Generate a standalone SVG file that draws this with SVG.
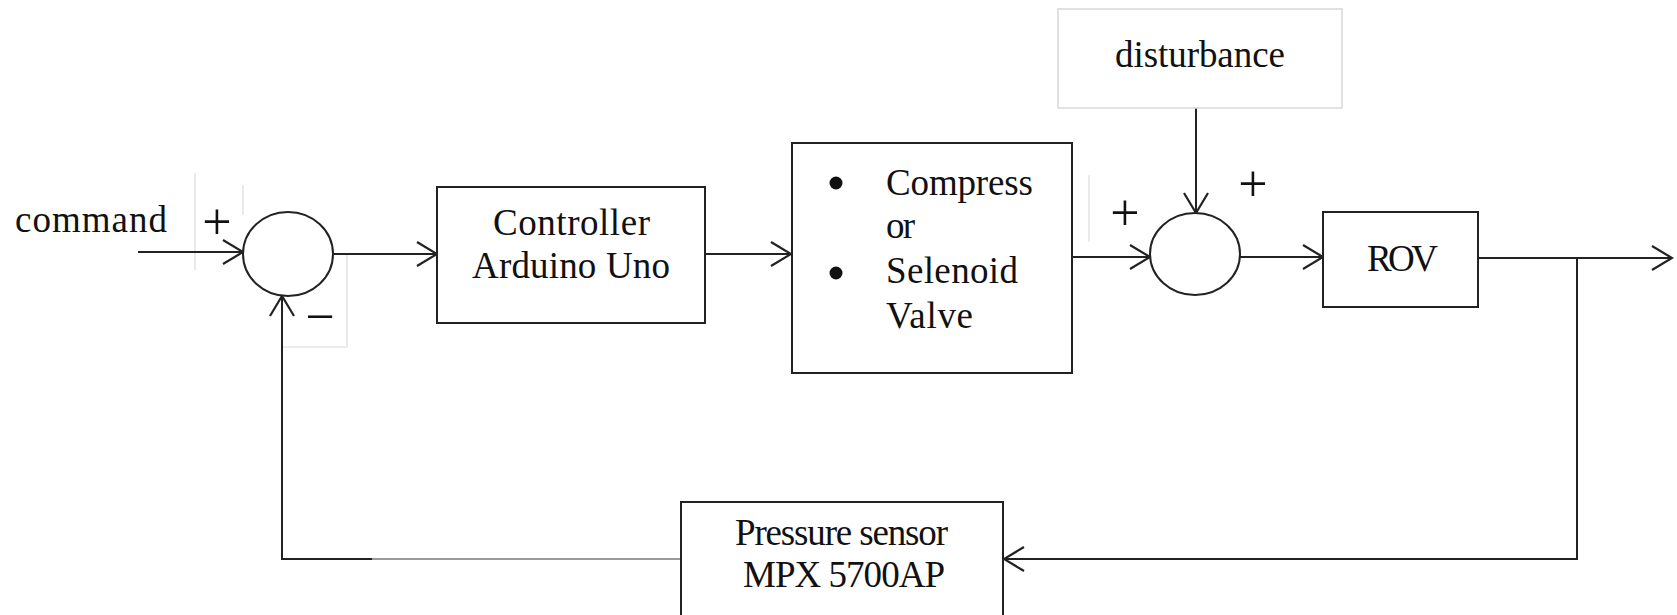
<svg xmlns="http://www.w3.org/2000/svg" width="1677" height="615" viewBox="0 0 1677 615">
<style>
.box{fill:#fff;stroke:#222;stroke-width:2}
.sum{fill:#fff;stroke:#222;stroke-width:2}
.ln{fill:none;stroke:#222;stroke-width:2}
.faint{fill:none;stroke:#dcdcdc;stroke-width:1.2}
.t{font-family:"Liberation Serif","Times New Roman",serif;font-size:37px;fill:#111}
.sg{font-family:"Liberation Serif","Times New Roman",serif;font-size:52px;fill:#111;text-anchor:middle}
</style>
<defs>
<marker id="arr" viewBox="0 0 24 26" refX="22" refY="13" markerWidth="24" markerHeight="26" markerUnits="userSpaceOnUse" orient="auto">
<path d="M2,1 L22,13 L2,25" fill="none" stroke="#222" stroke-width="2.2"/>
</marker>
</defs>
<rect width="1677" height="615" fill="#fff"/>

<g id="faint-guides">
<line class="faint" x1="195" y1="173" x2="195" y2="270"/>
<line class="faint" x1="243" y1="185" x2="243" y2="215"/>
<polyline class="faint" points="347,255 347,347 283,347"/>
<line class="faint" x1="1089" y1="175" x2="1089" y2="242"/>
</g>

<g id="connectors">
<line class="ln" x1="138" y1="252" x2="243" y2="252" marker-end="url(#arr)"/>
<line class="ln" x1="333" y1="254" x2="437" y2="254" marker-end="url(#arr)"/>
<line class="ln" x1="705" y1="254" x2="791" y2="254" marker-end="url(#arr)"/>
<line class="ln" x1="1072" y1="257" x2="1150" y2="257" marker-end="url(#arr)"/>
<line class="ln" x1="1196" y1="108" x2="1196" y2="213" marker-end="url(#arr)"/>
<line class="ln" x1="1240" y1="257" x2="1323" y2="257" marker-end="url(#arr)"/>
<line class="ln" x1="1479" y1="258" x2="1672" y2="258" marker-end="url(#arr)"/>
<polyline class="ln" points="1577,258 1577,559 1004,559" marker-end="url(#arr)"/>
<line x1="681" y1="559" x2="372" y2="559" stroke="#999" stroke-width="2"/>
<polyline class="ln" points="372,559 282,559 282,296" marker-end="url(#arr)"/>
</g>

<g id="command-label">
<text class="t" x="15" y="232" textLength="152" lengthAdjust="spacing">command</text>
</g>

<g id="sum1">
<ellipse class="sum" cx="288" cy="254" rx="45" ry="42"/>
<text class="sg" x="217" y="239">+</text>
<text class="sg" x="320" y="334">−</text>
</g>

<g id="controller">
<rect class="box" x="437" y="187" width="268" height="136"/>
<text class="t" x="493" y="235" textLength="157" lengthAdjust="spacing">Controller</text>
<text class="t" x="472" y="278" textLength="198" lengthAdjust="spacing">Arduino Uno</text>
</g>

<g id="actuator">
<rect class="box" x="792" y="143" width="280" height="230"/>
<circle cx="836" cy="183" r="6.5" fill="#111"/>
<circle cx="836" cy="273" r="6.5" fill="#111"/>
<text class="t" x="886" y="195" textLength="147" lengthAdjust="spacing">Compress</text>
<text class="t" x="886" y="238" textLength="29" lengthAdjust="spacing">or</text>
<text class="t" x="886" y="283" textLength="132" lengthAdjust="spacing">Selenoid</text>
<text class="t" x="886" y="328" textLength="87" lengthAdjust="spacing">Valve</text>
</g>

<g id="disturbance">
<rect x="1058" y="9" width="284" height="99" fill="#fff" stroke="#d8d8d8" stroke-width="1.5"/>
<text class="t" x="1115" y="67" textLength="170" lengthAdjust="spacing">disturbance</text>
</g>

<g id="sum2">
<ellipse class="sum" cx="1195" cy="254" rx="45" ry="41"/>
<text class="sg" x="1125" y="230">+</text>
<text class="sg" x="1253" y="201">+</text>
</g>

<g id="rov">
<rect class="box" x="1323" y="212" width="155" height="95"/>
<text class="t" x="1367" y="271" textLength="71" lengthAdjust="spacing">ROV</text>
</g>

<g id="sensor">
<rect class="box" x="681" y="502" width="322" height="130"/>
<text class="t" x="735" y="545" textLength="213" lengthAdjust="spacing">Pressure sensor</text>
<text class="t" x="743" y="587" textLength="202" lengthAdjust="spacing">MPX 5700AP</text>
</g>
</svg>
